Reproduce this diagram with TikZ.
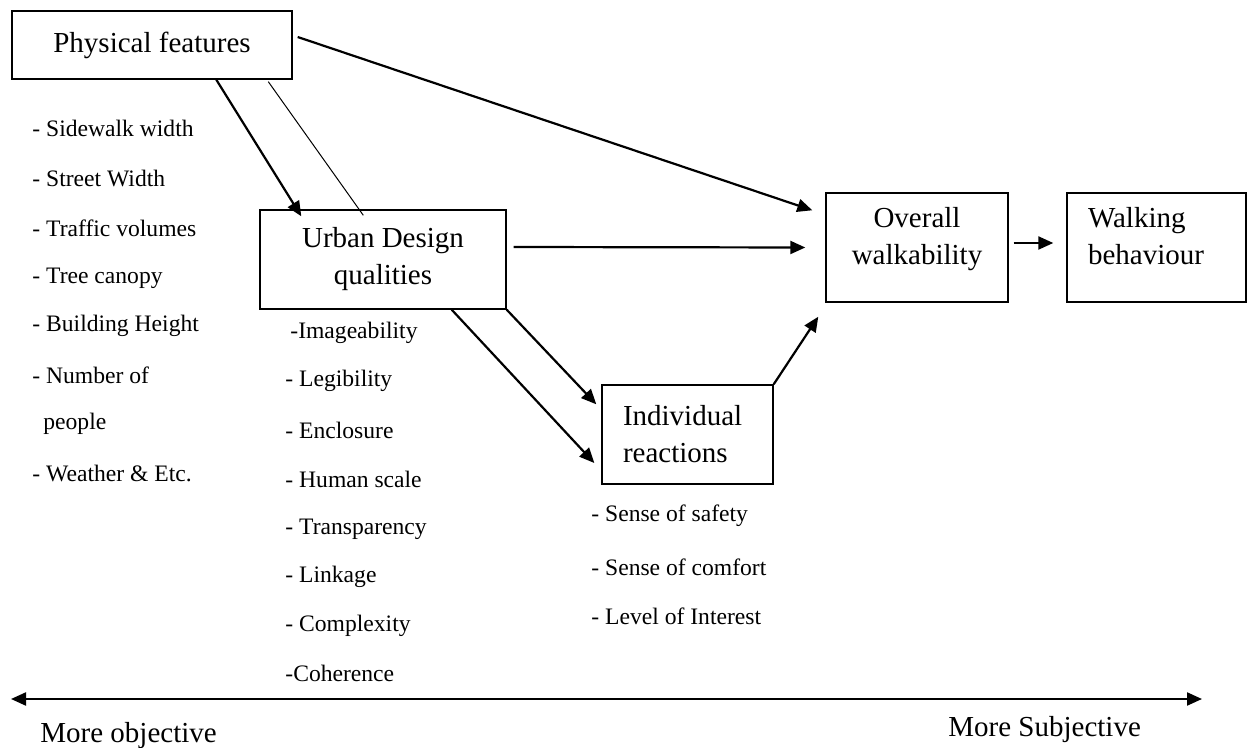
\documentclass[tikz,border=0pt]{standalone}
\usepackage{fontspec}
\setmainfont{Liberation Serif}
\usetikzlibrary{arrows.meta,calc}

\tikzset{
  box/.style={draw, line width=0.7pt, inner sep=0pt, align=center,
    font=\fontsize{14.5}{18.5}\selectfont},
  lbox/.style={box, align=left, inner xsep=10.5pt},
  item/.style={anchor=west, inner sep=0pt, font=\fontsize{11.8}{14}\selectfont},
  axislabel/.style={anchor=west, inner sep=0pt, font=\fontsize{14.5}{18}\selectfont},
  tip/.style={Triangle[length=7.5pt,width=6.5pt]},
  arr/.style={line width=1.1pt, -{Triangle[length=7.5pt,width=6.5pt]}},
  thinline/.style={line width=0.5pt},
}

\begin{document}
\begin{tikzpicture}[x=0.5pt, y=-0.5pt]
\useasboundingbox (0,0) rectangle (1253,748);

% boxes
\node[box, minimum width=140pt, minimum height=34pt] (pf) at (152,45) {Physical features};
\node[box, minimum width=123pt, minimum height=49.5pt] (ud) at (383,259.5) {Urban Design\\qualities};
\node[lbox, text width=64.5pt, minimum height=49.5pt] (ir) at (687.5,434.5) {Individual\\reactions};
\node[box, minimum width=91pt, minimum height=54.5pt] (ow) at (917,247.5) {Overall\\walkability\\[-7.3pt]\mbox{}};
\node[lbox, text width=68.5pt, minimum height=54.5pt] (wb) at (1156.5,247.5) {Walking\\behaviour\\[-7.3pt]\mbox{}};

% physical features list
\node[item] (p1) at (32,128) {- Sidewalk width};
\node[item] (p2) at (32,178) {- Street Width};
\node[item] (p3) at (32,228) {- Traffic volumes};
\node[item] (p4) at (32,278) {- Tree canopy};
\node[item] (p5) at (32,326) {- Building Height};
\node[item] (p6) at (32,375) {- Number of};
\node[item] (p7) at (43,424) {people};
\node[item] (p8) at (32,473) {- Weather \& Etc.};

% urban design qualities list
\node[item] (u1) at (290,333) {-Imageability};
\node[item] (u2) at (285,381) {- Legibility};
\node[item] (u3) at (285,430) {- Enclosure};
\node[item] (u4) at (285,479) {- Human scale};
\node[item] (u5) at (285,529) {- Transparency};
\node[item] (u6) at (285,577) {- Linkage};
\node[item] (u7) at (285,626) {- Complexity};
\node[item] (u8) at (285,673) {-Coherence};

% individual reactions list
\node[item] (r1) at (591,516) {- Sense of safety};
\node[item] (r2) at (591,567) {- Sense of comfort};
\node[item] (r3) at (591,616) {- Level of Interest};

% connectors
\draw[arr] ($(pf.south west)+(205,0)$) -- ($(ud.north west)+(42,7)$);
\draw[thinline] ($(pf.south west)+(257,2)$) -- ($(ud.north west)+(104,6)$);
\draw[arr] ($(pf.east)+(5,-8)$) -- ($(ow.north west)+(-13,18)$);
\draw[arr] ($(ud.east)+(7,-12.5)$) -- ($(ow.west)+(-20,0)$);
\draw[arr] ($(ow.east)+(5,-4.5)$) -- ($(wb.west)+(-13,-4.5)$);
\draw[arr] (ud.south east) -- ($(ir.north west)+(-5,20)$);
\draw[arr] ($(ud.south east)+(-55,0)$) -- ($(ir.west)+(-7,28.5)$);
\draw[arr] (ir.north east) -- ($(ow.south west)+(-7,14)$);

% objective / subjective axis
\coordinate (axl) at (11,699);
\coordinate (axr) at (1202,699);
\draw[line width=1.1pt, {Triangle[length=7.5pt,width=6.5pt]}-{Triangle[length=7.5pt,width=6.5pt]}] (axl) -- (axr);
\node[axislabel] (obj) at (40,736) {More objective};
\node[axislabel] (subj) at (948,730) {More Subjective};
\end{tikzpicture}
\end{document}
